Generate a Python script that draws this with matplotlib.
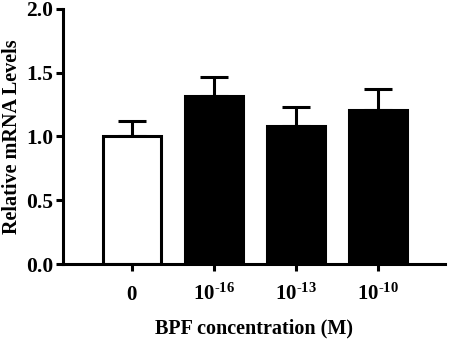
import matplotlib
matplotlib.use('Agg')
import matplotlib.pyplot as plt

plt.rcParams['font.family'] = ['Liberation Serif', 'DejaVu Serif']
plt.rcParams['font.weight'] = 'bold'
plt.rcParams['mathtext.fontset'] = 'custom'
plt.rcParams['mathtext.rm'] = 'Liberation Serif:bold'
plt.rcParams['mathtext.default'] = 'rm'

categories = ['0', '$10^{\\text{-16}}$', '$10^{\\text{-13}}$', '$10^{\\text{-10}}$']
means = [1.00, 1.32, 1.08, 1.21]
sem = [0.12, 0.15, 0.15, 0.16]
colors = ['white', 'black', 'black', 'black']

fig = plt.figure(figsize=(4.49, 3.42), dpi=100)
ax = fig.add_axes([0.140, 0.228, 0.851, 0.746])

x = range(len(categories))
ax.bar(x, means, width=0.71, color=colors, edgecolor='black', linewidth=2.2, zorder=2)
ax.errorbar(x, means, yerr=[[0] * len(sem), sem], fmt='none', ecolor='black',
            elinewidth=2.2, capsize=10, capthick=2.2, zorder=1)

ax.set_xlim(-0.84, 3.82)
ax.set_ylim(0, 2.0)
ax.set_yticks([0, 0.5, 1.0, 1.5, 2.0])
ax.set_yticklabels(['0.0', '0.5', '1.0', '1.5', '2.0'], fontsize=15.5)
ax.set_xticks(list(x))
ax.set_xticklabels(categories, fontsize=15)
for lbl in ax.get_xticklabels():
    lbl.set_va('baseline')

for s in ['top', 'right']:
    ax.spines[s].set_visible(False)
for s in ['left', 'bottom']:
    ax.spines[s].set_linewidth(2.2)
ax.tick_params(width=2.2, length=5)
ax.tick_params(axis='y', pad=2)
ax.tick_params(axis='x', pad=21)

ax.set_ylabel('Relative mRNA Levels', fontsize=14.5, fontweight='bold')
ax.yaxis.set_label_coords(-0.106, 0.5)
ax.set_xlabel('BPF concentration (M)', fontsize=14.5, fontweight='bold')
ax.xaxis.set_label_coords(0.5, -0.212)

fig.savefig('out.png', dpi=100)
